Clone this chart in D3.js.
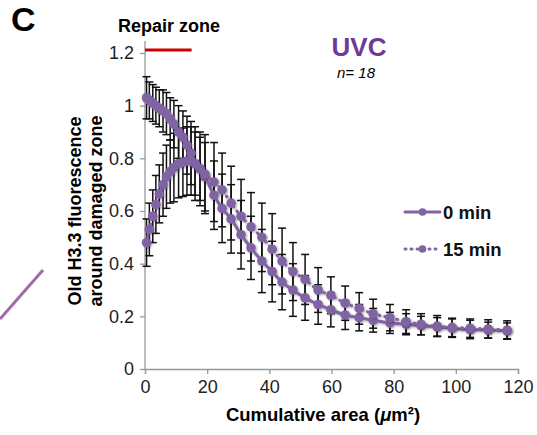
<!DOCTYPE html>
<html>
<head>
<meta charset="utf-8">
<script src="https://d3js.org/d3.v7.min.js"></script>
<style>
    body { margin: 0; background: #fff; }
    svg text { font-family: "Liberation Sans", Arial, Helvetica, sans-serif; }
</style>
</head>
<body>
<div id="chart"></div>
<script>
// cumulative area (um2) of each ring
var area = [0.5, 1.4, 2.5, 3.5, 4.6, 5.8, 6.9, 8.1, 9.3, 10.8, 12.2, 13.5, 14.8, 16.1, 17.7, 19.3, 22.2, 24.8, 27.7, 30.9,
    34.1, 37.6, 40.9, 44.1, 47.6, 51.5, 55.7, 59.8, 64.4, 68.9, 73.4, 78.8, 84.0, 88.8, 94.0, 98.8, 104.6, 110.4, 116.5];

var min0 = [1.03, 1.02, 1.01, 1.0, 0.99, 0.98, 0.97, 0.95, 0.93, 0.90, 0.88, 0.85, 0.82, 0.78, 0.76, 0.73, 0.66, 0.61, 0.57, 0.51,
    0.46, 0.41, 0.37, 0.33, 0.30, 0.27, 0.245, 0.225, 0.205, 0.195, 0.185, 0.175, 0.17, 0.165, 0.16, 0.155, 0.15, 0.148, 0.145];
var err0 = [0.08, 0.07, 0.07, 0.07, 0.07, 0.08, 0.08, 0.08, 0.09, 0.1, 0.1, 0.11, 0.12, 0.12, 0.12, 0.13, 0.13, 0.13, 0.13, 0.13,
    0.12, 0.12, 0.115, 0.105, 0.1, 0.085, 0.075, 0.065, 0.055, 0.05, 0.045, 0.04, 0.04, 0.035, 0.035, 0.035, 0.035, 0.03, 0.03];

var min15 = [0.48, 0.53, 0.58, 0.625, 0.665, 0.70, 0.73, 0.75, 0.765, 0.78, 0.785, 0.79, 0.79, 0.78, 0.76, 0.74, 0.71, 0.68, 0.63, 0.58,
    0.54, 0.50, 0.455, 0.41, 0.37, 0.34, 0.30, 0.28, 0.25, 0.23, 0.21, 0.195, 0.18, 0.17, 0.163, 0.158, 0.155, 0.152, 0.148];
var err15 = [0.09, 0.1, 0.1, 0.11, 0.11, 0.12, 0.12, 0.12, 0.13, 0.13, 0.13, 0.13, 0.13, 0.14, 0.14, 0.15, 0.15, 0.14, 0.14, 0.14,
    0.13, 0.13, 0.135, 0.125, 0.11, 0.095, 0.085, 0.07, 0.065, 0.06, 0.055, 0.05, 0.045, 0.04, 0.04, 0.035, 0.035, 0.035, 0.035];

var xTicks = [0, 20, 40, 60, 80, 100, 120];
var yTicks = [0, 0.2, 0.4, 0.6, 0.8, 1, 1.2];
var repairZone = [0, 15];

var purple = "#8064A2";
var margin = { top: 53, right: 19, bottom: 66, left: 145 };
var W = 537, H = 435;
var width = W - margin.left - margin.right,
    height = H - margin.top - margin.bottom;

var svg = d3.select("#chart").append("svg")
    .attr("width", W)
    .attr("height", H);

var defs = svg.append("defs");
var f = defs.append("filter").attr("id", "soft").attr("x", "-50%").attr("y", "-50%").attr("width", "200%").attr("height", "200%");
f.append("feGaussianBlur").attr("in", "SourceAlpha").attr("stdDeviation", 1.2).attr("result", "b");
f.append("feOffset").attr("in", "b").attr("dx", 0.5).attr("dy", 1).attr("result", "o");
f.append("feComponentTransfer").attr("in", "o").attr("result", "s")
    .append("feFuncA").attr("type", "linear").attr("slope", 0.35);
var fm = f.append("feMerge");
fm.append("feMergeNode").attr("in", "s");
fm.append("feMergeNode").attr("in", "SourceGraphic");

var g = svg.append("g").attr("transform", "translate(" + margin.left + "," + margin.top + ")");

var x = d3.scaleLinear().domain([0, 120]).range([0, width]);
var y = d3.scaleLinear().domain([0, 1.2]).range([height, 0]);

// axes
var xAxis = g.append("g").attr("transform", "translate(0," + height + ")")
    .call(d3.axisBottom(x).tickValues(xTicks).tickSize(5).tickPadding(6).tickFormat(d3.format("d")));
var yAxis = g.append("g")
    .call(d3.axisLeft(y).tickValues(yTicks).tickSize(5).tickPadding(6).tickFormat(function (d) { return d; }));
[xAxis, yAxis].forEach(function (a) {
    a.select(".domain").attr("stroke", "#999").attr("stroke-width", 1.3);
    a.selectAll(".tick line").attr("stroke", "#999").attr("stroke-width", 1.3);
    a.selectAll(".tick text").attr("fill", "#222").style("font-size", "18px");
});
yAxis.select(".domain").attr("d", "M0," + height + "V-12");

// repair zone bar
g.append("line")
    .attr("x1", x(repairZone[0])).attr("x2", x(repairZone[1]))
    .attr("y1", y(1.2) - 3).attr("y2", y(1.2) - 3)
    .attr("stroke", "#cc0000").attr("stroke-width", 3);

var series = [
    { name: "0 min", v: min0, e: err0, dash: null },
    { name: "15 min", v: min15, e: err15, dash: "1,5" }
];

// error bars
series.forEach(function (s) {
    var eb = g.append("g").attr("stroke", "#111").attr("stroke-width", 1.5);
    area.forEach(function (a, i) {
        var cx = x(a), lo = y(s.v[i] - s.e[i]), hi = y(s.v[i] + s.e[i]);
        eb.append("line").attr("x1", cx).attr("x2", cx).attr("y1", lo).attr("y2", hi);
        eb.append("line").attr("x1", cx - 4).attr("x2", cx + 4).attr("y1", lo).attr("y2", lo);
        eb.append("line").attr("x1", cx - 4).attr("x2", cx + 4).attr("y1", hi).attr("y2", hi);
    });
});

var line = d3.line()
    .x(function (d) { return x(d[0]); })
    .y(function (d) { return y(d[1]); })
    .curve(d3.curveCatmullRom);

series.forEach(function (s) {
    var pts = area.map(function (a, i) { return [a, s.v[i]]; });
    var sg = g.append("g").attr("filter", "url(#soft)");
    sg.append("path").datum(pts)
        .attr("d", line)
        .attr("fill", "none")
        .attr("stroke", purple)
        .attr("stroke-width", 3)
        .attr("stroke-linecap", "round")
        .attr("stroke-dasharray", s.dash);
    sg.selectAll("circle").data(pts).enter().append("circle")
        .attr("cx", function (d) { return x(d[0]); })
        .attr("cy", function (d) { return y(d[1]); })
        .attr("r", 4.8)
        .attr("fill", purple);
});

// legend
var lg = svg.append("g").attr("transform", "translate(405,212)");
series.forEach(function (s, i) {
    var row = lg.append("g").attr("transform", "translate(0," + (i * 37) + ")");
    row.append("line").attr("x1", 0).attr("x2", 35).attr("y1", 0).attr("y2", 0)
        .attr("stroke", purple).attr("stroke-width", 3).attr("stroke-linecap", "round")
        .attr("stroke-dasharray", s.dash);
    row.append("circle").attr("cx", 17.5).attr("cy", 0).attr("r", 3.8).attr("fill", purple);
    row.append("text").attr("x", 38).attr("y", 7).text(s.name)
        .style("font-size", "18.5px").style("font-weight", "bold").attr("fill", "#111");
});

// titles
svg.append("text").attr("x", 11).attr("y", 31).text("C")
    .style("font-size", "34px").style("font-weight", "bold");
svg.append("text").attr("x", 169).attr("y", 32).attr("text-anchor", "middle").text("Repair zone")
    .style("font-size", "18px").style("font-weight", "bold");
svg.append("text").attr("x", 359).attr("y", 56).attr("text-anchor", "middle").text("UVC")
    .style("font-size", "26px").style("font-weight", "bold").attr("fill", "#6f3a96");
svg.append("text").attr("x", 356).attr("y", 78).attr("text-anchor", "middle").text("n= 18")
    .style("font-size", "15px").style("font-style", "italic");

var yt = svg.append("text").attr("transform", "translate(0,211) rotate(-90)")
    .attr("text-anchor", "middle").style("font-size", "18px").style("font-weight", "bold");
yt.append("tspan").attr("x", 0).attr("y", 81).text("Old H3.3 fluorescence");
yt.append("tspan").attr("x", 0).attr("y", 102).text("around damaged zone");

var xt = svg.append("text").attr("x", 323).attr("y", 421).attr("text-anchor", "middle")
    .style("font-size", "18.5px").style("font-weight", "bold");
xt.append("tspan").text("Cumulative area (");
xt.append("tspan").style("font-style", "italic").text("\u03bc");
xt.append("tspan").text("m\u00b2)");

// stray line from neighbouring panel
svg.append("line").attr("x1", 0).attr("y1", 319).attr("x2", 43).attr("y2", 270)
    .attr("stroke", "#a26aa8").attr("stroke-width", 3);
</script>
</body>
</html>
